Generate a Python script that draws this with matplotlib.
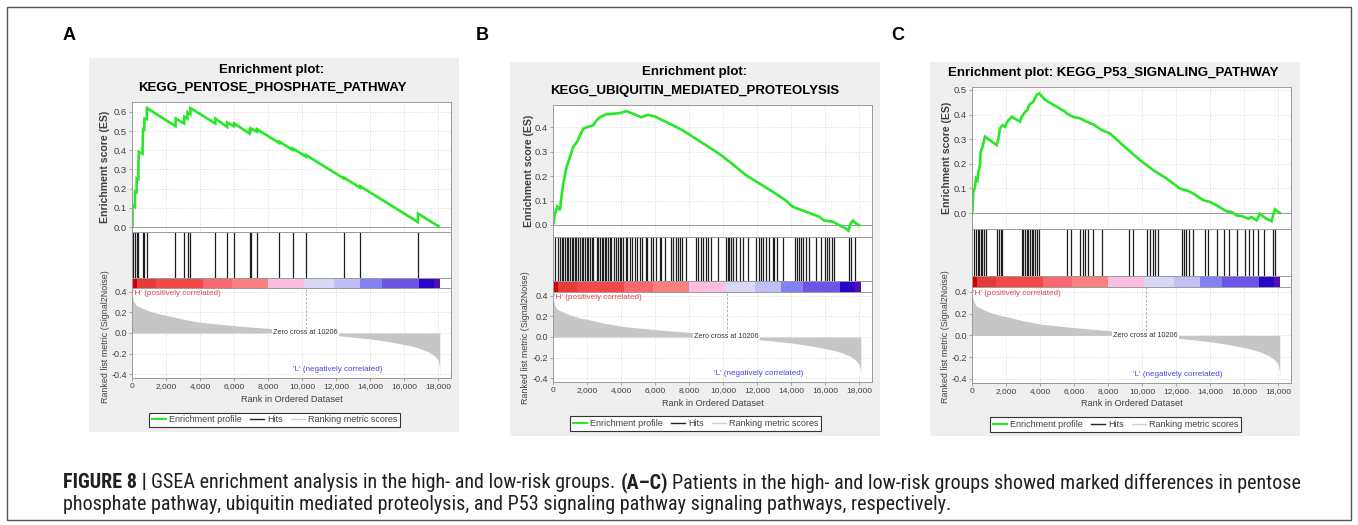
import matplotlib
matplotlib.use("Agg")
import matplotlib.pyplot as plt
from matplotlib.lines import Line2D
from matplotlib.patches import Rectangle
from matplotlib import font_manager
from matplotlib.font_manager import FontProperties

W, H = 1358, 525

# ranked list metric, shared by the three panels
metric_rank = [0, 30, 100, 250, 500, 1000, 1500, 2000, 3000, 4000, 5000, 6000, 7000, 8000, 9000,
               10206, 11000, 12000, 13000, 14000, 15000, 16000, 16500, 17000, 17500, 17800, 18000,
               18080, 18100]
metric_value = [0.42, 0.36, 0.31, 0.27, 0.25, 0.215, 0.19, 0.173, 0.135, 0.105, 0.088, 0.072, 0.058,
                0.045, 0.03, 0.0, -0.012, -0.025, -0.04, -0.058, -0.082, -0.112, -0.13, -0.155,
                -0.19, -0.225, -0.265, -0.32, -0.39]
zero_cross = 10206

# heat bar under the hits
bar_edges = [0, 280, 1400, 4160, 5900, 8020, 10140, 11900, 13410, 14690, 16880, 17780, 18100]
bar_colors = ['#d20000', '#e33a3a', '#f34848', '#f96870', '#fa8080', '#fbbde0', '#d8d8f6',
              '#c2bef6', '#8282f4', '#6a55e6', '#2a05c8', '#5210b0']

# panel A: KEGG_PENTOSE_PHOSPHATE_PATHWAY
a_es_rank = [0, 30, 30, 170, 180, 270, 276, 370, 380, 400, 620, 630, 650, 720, 730, 870, 880,
             2560, 2570, 3070, 3080, 3260, 3270, 3430, 3440, 4900, 4910, 5590, 5600, 6000, 6010,
             6910, 6920, 6960, 6970, 7340, 7350, 8660, 8670, 9450, 9460, 10230, 10240, 12440,
             12450, 13410, 13420, 16810, 16820, 18020]
a_es_value = [0.0, 0.0, 0.112, 0.104, 0.185, 0.182, 0.254, 0.25, 0.323, 0.392, 0.382, 0.448, 0.51,
              0.508, 0.565, 0.562, 0.62, 0.526, 0.565, 0.54, 0.575, 0.565, 0.598, 0.588, 0.62, 0.54,
              0.565, 0.522, 0.545, 0.526, 0.54, 0.488, 0.503, 0.5, 0.515, 0.497, 0.51, 0.438, 0.445,
              0.402, 0.41, 0.367, 0.375, 0.254, 0.258, 0.205, 0.213, 0.026, 0.07, 0.004]
a_hits = [30, 176, 276, 370, 629, 724, 870, 2550, 3080, 3265, 3440, 4910, 5600, 6010, 6920, 6970,
          7345, 8665, 9453, 10235, 12450, 13420, 16810]
a_es_ticks = [0.0, 0.1, 0.2, 0.3, 0.4, 0.5, 0.6]

# panel B: KEGG_UBIQUITIN_MEDIATED_PROTEOLYSIS
b_es_rank = [0, 20, 117, 254, 410, 469, 606, 801, 997, 1192, 1426, 1583, 1778, 2013, 2364, 2560,
             2755, 3146, 3537, 3928, 4318, 4709, 5198, 5589, 5979, 6468, 7054, 7640, 8226, 9008,
             9790, 10571, 11353, 12134, 12916, 13698, 14089, 14870, 15652, 15945, 16433, 16824,
             17215, 17371, 17508, 17645, 17801, 17996]
b_es_value = [0.0, 0.007, 0.047, 0.075, 0.061, 0.10, 0.17, 0.237, 0.278, 0.32, 0.34, 0.366, 0.393,
              0.40, 0.407, 0.427, 0.44, 0.452, 0.454, 0.457, 0.465, 0.454, 0.44, 0.45, 0.443,
              0.427, 0.407, 0.386, 0.36, 0.325, 0.29, 0.248, 0.203, 0.17, 0.136, 0.10, 0.075,
              0.054, 0.034, 0.018, 0.014, 0.0, -0.014, -0.023, 0.007, 0.018, 0.007, 0.0]
b_hits = [117, 313, 410, 508, 606, 703, 801, 899, 997, 1094, 1192, 1290, 1348, 1485, 1583, 1680,
          1778, 1876, 1974, 2071, 2169, 2267, 2364, 2560, 2657, 2755, 2853, 2951, 3048, 3146,
          3244, 3341, 3439, 3576, 3693, 3830, 3928, 4025, 4123, 4279, 4377, 4514, 4670, 4846,
          4944, 5100, 5237, 5452, 5549, 5784, 5882, 6038, 6272, 6370, 6565, 6956, 7054, 7249,
          7347, 7445, 7601, 7836, 8422, 8519, 8676, 8813, 9008, 9106, 9301, 9692, 10180, 10278,
          10376, 10473, 10571, 10767, 11021, 11157, 11450, 11939, 12134, 12232, 12369, 12525,
          12681, 12916, 13013, 13150, 13502, 14245, 14323, 14440, 14577, 14675, 14870, 15065,
          15456, 15749, 16003, 16101, 16238, 16394, 16531, 17410, 17547, 17762]
b_es_ticks = [0.0, 0.1, 0.2, 0.3, 0.4]

# panel C: KEGG_P53_SIGNALING_PATHWAY
c_es_rank = [0, 20, 78, 176, 235, 314, 372, 470, 510, 627, 764, 1450, 1548, 1646, 1803, 1940,
             2078, 2332, 2822, 2920, 3116, 3254, 3371, 3606, 3802, 3959, 4292, 5468, 5566, 5958,
             6350, 6742, 7134, 7624, 8114, 9094, 9878, 10662, 11446, 12230, 12622, 13014, 13602,
             13994, 14386, 14974, 15268, 15562, 15856, 16248, 16444, 16738, 16934, 17228, 17620,
             17758, 17817, 18110]
c_es_value = [0.0, 0.0, 0.086, 0.106, 0.14, 0.133, 0.167, 0.194, 0.249, 0.27, 0.31, 0.276, 0.30,
              0.344, 0.357, 0.35, 0.371, 0.391, 0.371, 0.391, 0.41, 0.418, 0.44, 0.452, 0.48,
              0.486, 0.46, 0.412, 0.405, 0.39, 0.385, 0.371, 0.36, 0.337, 0.323, 0.262, 0.215,
              0.174, 0.14, 0.099, 0.092, 0.079, 0.052, 0.045, 0.031, 0.007, 0.004, -0.01, -0.012,
              -0.023, -0.016, -0.03, -0.003, -0.02, -0.033, 0.004, 0.015, 0.0]
c_hits = [118, 216, 333, 431, 510, 608, 725, 823, 1490, 1588, 1686, 1784, 2920, 3018, 3116, 3214,
          3312, 3410, 3508, 3606, 3704, 3842, 3940, 5566, 5802, 6350, 6507, 6644, 6840, 7134,
          7624, 9251, 9486, 10270, 10466, 10623, 10760, 10956, 12328, 12466, 12583, 12779, 13014,
          13700, 13896, 14386, 14837, 15131, 15562, 16052, 16307, 16542, 16836, 17170, 17679,
          17816]
c_es_ticks = [0.0, 0.1, 0.2, 0.3, 0.4, 0.5]

rank_ticks = [0, 2000, 4000, 6000, 8000, 10000, 12000, 14000, 16000, 18000]
metric_ticks = [-0.4, -0.2, 0.0, 0.2, 0.4]

GREEN = '#26e826'
PANEL_BG = '#efefef'
TXT = '#404040'
XMAX = 18760

plt.rcParams['font.family'] = ['Liberation Sans', 'DejaVu Sans']

fig = plt.figure(figsize=(W / 100, H / 100), dpi=100)


def px_axes(x0, y0, x1, y1):
    return fig.add_axes([x0 / W, 1 - y1 / H, (x1 - x0) / W, (y1 - y0) / H])


def px_text(x, y, s, **kw):
    return fig.text(x / W, 1 - y / H, s, **kw)


def style_axes(ax):
    for sp in ax.spines.values():
        sp.set_color('#9a9a9a')
        sp.set_linewidth(0.7)
    ax.tick_params(length=2, width=0.5, color='#888888', pad=1.5, labelcolor=TXT)
    ax.set_xlim(0, XMAX)


def dotted_grid(ax, axis='both'):
    ax.grid(True, axis=axis, color='#cfcfcf', linestyle=(0, (1, 2)), linewidth=0.6)
    ax.set_axisbelow(True)


def draw_panel(lay, titles, es_rank, es_value, hits, es_ticks):
    bx0, by0, bx1, by1 = lay['bg']
    fig.add_artist(Rectangle((bx0 / W, 1 - by1 / H), (bx1 - bx0) / W, (by1 - by0) / H,
                             transform=fig.transFigure, facecolor=PANEL_BG, edgecolor='none',
                             zorder=0))
    for (ty, t) in zip(lay['title_y'], titles):
        px_text(lay['title_x'], ty, t, ha='center', va='center', fontsize=9.5,
                fontweight='bold', color='black')

    x0, x1 = lay['x']
    y_es, y_hits, y_cb, y_rank, y_end = lay['rows']

    # enrichment score
    ax = px_axes(x0, y_es, x1, y_hits)
    style_axes(ax)
    dotted_grid(ax)
    ax.axhline(0, color='#9a9a9a', lw=0.7)
    ax.plot(es_rank, es_value, color=GREEN, lw=1.9, solid_joinstyle='miter')
    ax.set_ylim(*lay['es_ylim'])
    ax.set_yticks(es_ticks)
    ax.set_yticklabels([f'{v:.1f}' for v in es_ticks], fontsize=6.8)
    ax.set_xticks(rank_ticks)
    ax.tick_params(axis='x', length=0, labelbottom=False)

    # hits
    ax = px_axes(x0, y_hits, x1, y_cb)
    style_axes(ax)
    ax.vlines(hits, 0, 1, color='#1e1e1e', lw=0.9)
    ax.set_ylim(0, 1)
    ax.set_xticks([])
    ax.set_yticks([])

    # heat bar
    ax = px_axes(x0, y_cb, x1, y_rank)
    style_axes(ax)
    lefts = bar_edges[:-1]
    widths = [b - a for a, b in zip(bar_edges[:-1], bar_edges[1:])]
    ax.bar(lefts, [1] * len(lefts), width=widths, align='edge', color=bar_colors, lw=0)
    ax.set_ylim(0, 1)
    ax.set_xticks([])
    ax.set_yticks([])

    # ranked list metric
    ax = px_axes(x0, y_rank, x1, y_end)
    style_axes(ax)
    dotted_grid(ax)
    ax.fill_between(metric_rank, metric_value, 0, color='#c6c6c6', lw=0)
    ylo, yhi = lay['rank_ylim']
    ax.set_ylim(ylo, yhi)
    ax.vlines(zero_cross, 0, yhi, color='#a0a0a0', lw=0.6, linestyles=(0, (3, 2)))
    ax.text(zero_cross, 0.0, f'Zero cross at {zero_cross}', ha='center', va='center',
            fontsize=5.2, color='#333333',
            bbox=dict(facecolor='white', edgecolor='none', pad=0.6))
    ax.text(60, 0.385, "'H' (positively correlated)", ha='left', va='center', fontsize=5.8,
            color='#e8404a')
    ax.text(9450, -0.355, "'L' (negatively correlated)", ha='left', va='center', fontsize=5.8,
            color='#4646dc')
    ax.set_yticks(metric_ticks)
    ax.set_yticklabels([f'{v:.1f}' for v in metric_ticks], fontsize=6.5)
    ax.set_xticks(rank_ticks)
    ax.set_xticklabels([f'{v:,}' for v in rank_ticks], fontsize=6.0)

    px_text((x0 + x1) / 2, lay['xlabel_y'], 'Rank in Ordered Dataset', ha='center',
            va='center', fontsize=6.6, color=TXT)
    px_text(lay['es_label'][0], lay['es_label'][1], 'Enrichment score (ES)', rotation=90,
            ha='center', va='center', fontsize=7.6, fontweight='bold', color=TXT)
    px_text(lay['rank_label'][0], lay['rank_label'][1], 'Ranked list metric (Signal2Noise)',
            rotation=90, ha='center', va='center', fontsize=6.4, color=TXT)

    handles = [Line2D([], [], color=GREEN, lw=1.5),
               Line2D([], [], color='#222222', lw=1.0),
               Line2D([], [], color='#d0d0d0', lw=1.0)]
    leg = fig.legend(handles, ['Enrichment profile', 'Hits', 'Ranking metric scores'],
                     loc='center', bbox_to_anchor=(lay['legend'][0] / W, 1 - lay['legend'][1] / H),
                     ncol=3, fontsize=6.5, frameon=True, fancybox=False, framealpha=1,
                     edgecolor='#333333', borderpad=0.3, handlelength=1.6, handletextpad=0.3,
                     columnspacing=0.9, borderaxespad=0)
    leg.get_frame().set_linewidth(0.8)
    for t in leg.get_texts():
        t.set_color(TXT)


layout_a = dict(bg=(89, 58, 459, 432), title_x=272, title_y=[70, 88], x=(132, 451),
                rows=(102, 232, 278, 288, 378), es_ylim=(-0.026, 0.652),
                rank_ylim=(-0.439, 0.439), xlabel_y=399, es_label=(105, 167),
                rank_label=(105, 337), legend=(274.5, 420))
layout_b = dict(bg=(510, 62, 880, 436), title_x=695, title_y=[72, 91], x=(553, 872),
                rows=(105, 237, 281, 292, 382), es_ylim=(-0.049, 0.49),
                rank_ylim=(-0.439, 0.439), xlabel_y=403, es_label=(529, 171),
                rank_label=(525, 338), legend=(695.5, 423.5))
layout_c = dict(bg=(930, 62, 1300, 436), title_x=1113, title_y=[73], x=(972, 1291),
                rows=(87, 229, 276, 287, 383), es_ylim=(-0.065, 0.512),
                rank_ylim=(-0.437, 0.445), xlabel_y=404, es_label=(947, 158),
                rank_label=(945, 337), legend=(1115.5, 424.5))

draw_panel(layout_a, ['Enrichment plot:', 'KEGG_PENTOSE_PHOSPHATE_PATHWAY'],
           a_es_rank, a_es_value, a_hits, a_es_ticks)
draw_panel(layout_b, ['Enrichment plot:', 'KEGG_UBIQUITIN_MEDIATED_PROTEOLYSIS'],
           b_es_rank, b_es_value, b_hits, b_es_ticks)
draw_panel(layout_c, ['Enrichment plot: KEGG_P53_SIGNALING_PATHWAY'],
           c_es_rank, c_es_value, c_hits, c_es_ticks)

for lab, lx in zip(['A', 'B', 'C'], [69, 482, 898]):
    px_text(lx, 36, lab, ha='center', va='center', fontsize=13, fontweight='bold', color='black')

# outer frame
fig.add_artist(Rectangle((7 / W, 1 - 520 / H), 1344 / W, 513 / H, transform=fig.transFigure,
                         facecolor='none', edgecolor='#555555', lw=1.0))


# caption font: prefer a narrow face, like the journal's condensed sans
def pick_caption_font():
    names = {f.name for f in font_manager.fontManager.ttflist}
    for nm in ['Liberation Sans Narrow', 'Roboto Condensed', 'Open Sans Condensed']:
        if nm in names:
            return dict(family=nm)
    for f in font_manager.fontManager.ttflist:
        if f.name == 'DejaVu Sans' and 'Condensed' in f.fname and 'Bold' not in f.fname \
                and 'Oblique' not in f.fname:
            return dict(family='DejaVu Sans', fontstretch='condensed')
    return dict(family='Liberation Sans')


cap_font = pick_caption_font()
renderer = fig.canvas.get_renderer()

line1 = [('FIGURE 8 |', True),
         ('GSEA enrichment analysis in the high- and low-risk groups.', False),
         ('(A\u2013C)', True),
         ('Patients in the high- and low-risk groups showed marked differences in pentose', False)]
line2 = [('phosphate pathway, ubiquitin mediated proteolysis, and P53 signaling pathway '
          'signaling pathways, respectively.', False)]


def space_width(size):
    t1 = fig.text(0, 0, 'a a', fontsize=size, **cap_font)
    t2 = fig.text(0, 0, 'aa', fontsize=size, **cap_font)
    w = t1.get_window_extent(renderer).width - t2.get_window_extent(renderer).width
    t1.remove()
    t2.remove()
    return w


def run_width(parts, size):
    total = 0
    for i, (s, b) in enumerate(parts):
        t = fig.text(0, 0, s, fontsize=size, fontweight='bold' if b else 'normal', **cap_font)
        total += t.get_window_extent(renderer).width
        t.remove()
        if i < len(parts) - 1:
            total += space_width(size)
    return total


def draw_run(parts, x, y, size):
    for i, (s, b) in enumerate(parts):
        t = px_text(x, y, s, fontsize=size, fontweight='bold' if b else 'normal', ha='left',
                    va='center', color='#231f20', **cap_font)
        x += t.get_window_extent(renderer).width
        if i < len(parts) - 1:
            x += space_width(size)


cap_size = 10 * 1234 / run_width(line1, 10)
draw_run(line1, 63, 483, cap_size)
draw_run(line2, 63, 505, cap_size)

fig.savefig('out.png', dpi=100)
